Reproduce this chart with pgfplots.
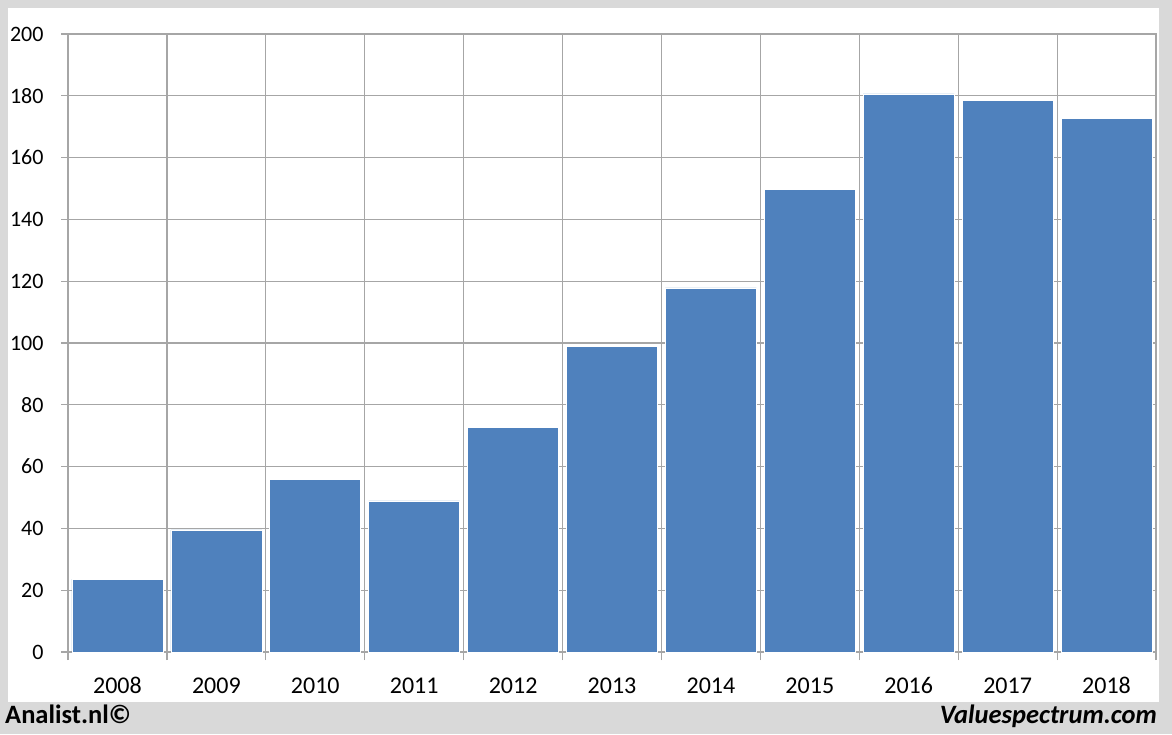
\documentclass[border=0pt]{standalone}
\usepackage{fontspec}
\setmainfont{Carlito}
\usepackage{pgfplots}
\pgfplotsset{compat=1.18}
\definecolor{barblue}{HTML}{4F81BD}
\definecolor{framegray}{HTML}{D9D9D9}
\definecolor{gridgray}{HTML}{A6A6A6}
\begin{document}
\begin{tikzpicture}[x=1pt,y=1pt]
\fill[framegray] (0,0) rectangle (1172,734);
\fill[white] (8,32) rectangle (1159,726);
\begin{axis}[
  at={(68pt,82pt)}, anchor=south west,
  scale only axis, width=1088pt, height=618pt,
  xmin=-0.5, xmax=10.5, ymin=0, ymax=200,
  ytick={0,20,...,200},
  xtick={0,...,10},
  xticklabels={2008,2009,2010,2011,2012,2013,2014,2015,2016,2017,2018},
  minor xtick={-0.5,0.5,...,10.5},
  tick align=outside,
  xtick pos=bottom, ytick pos=left,
  major tick length=7pt, minor tick length=8pt,
  major x tick style={draw=none},
  minor x tick style={gridgray, line width=1.2pt},
  major y tick style={gridgray, line width=1.2pt},
  ymajorgrids, xminorgrids,
  major grid style={gridgray, line width=1.2pt},
  minor grid style={gridgray, line width=1.2pt},
  axis line style={gridgray, line width=1.2pt},
  /pgf/number format/assume math mode=true,
  yticklabel style={font=\fontsize{22}{22}\selectfont, xshift=-14pt},
  xticklabel style={font=\fontsize{24}{24}\selectfont, yshift=-15pt},
  ybar, bar width=0.92, bar shift=0pt,
]
\addplot[fill=barblue, draw=white, line width=0.6pt] coordinates {
(0,23.6) (1,39.5) (2,55.8) (3,48.9) (4,72.6) (5,98.8) (6,117.8) (7,149.8) (8,180.6) (9,178.6) (10,172.8)
};
\end{axis}
\node[anchor=base west, inner sep=0pt, font=\fontsize{26.5}{26.5}\selectfont\bfseries] at (5,11) {Analist.nl©};
\node[anchor=base east, inner sep=0pt, font=\fontsize{26.5}{26.5}\selectfont\bfseries\itshape] at (1157,11) {Valuespectrum.com};
\pgfresetboundingbox
\useasboundingbox (0,0) rectangle (1172,734);
\end{tikzpicture}
\end{document}
